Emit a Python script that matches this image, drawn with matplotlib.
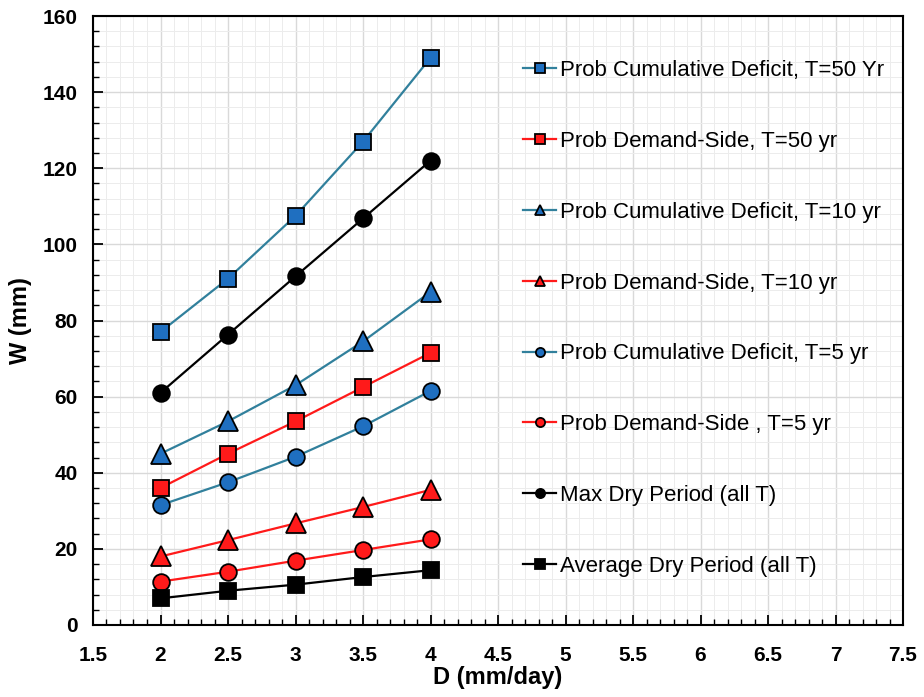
import matplotlib.pyplot as plt
from matplotlib.ticker import MultipleLocator

plt.rcParams['font.family'] = ['Liberation Sans', 'DejaVu Sans']

d = [2, 2.5, 3, 3.5, 4]
cum_50 = [77, 91, 107.5, 127, 149]
dem_50 = [36, 45, 53.5, 62.5, 71.5]
cum_10 = [45, 53.5, 63, 74.5, 87.5]
dem_10 = [18, 22.3, 26.7, 31, 35.5]
cum_5 = [31.5, 37.5, 44.2, 52.2, 61.5]
dem_5 = [11.4, 14, 16.9, 19.7, 22.5]
max_dry = [61, 76.3, 91.6, 106.8, 122]
avg_dry = [7, 9, 10.6, 12.6, 14.4]

labels = ['Prob Cumulative Deficit, T=50 Yr', 'Prob Demand-Side, T=50 yr',
          'Prob Cumulative Deficit, T=10 yr', 'Prob Demand-Side, T=10 yr',
          'Prob Cumulative Deficit, T=5 yr', 'Prob Demand-Side , T=5 yr',
          'Max Dry Period (all T)', 'Average Dry Period (all T)']

blue_line = '#31809c'
blue_fill = '#1f6fc0'
red = '#ff1a1a'

series = [
    (cum_50, blue_line, blue_fill, 's', 12),
    (dem_50, red, red, 's', 12),
    (cum_10, blue_line, blue_fill, '^', 14),
    (dem_10, red, red, '^', 14),
    (cum_5, blue_line, blue_fill, 'o', 12),
    (dem_5, red, red, 'o', 12),
    (max_dry, 'black', 'black', 'o', 12),
    (avg_dry, 'black', 'black', 's', 12),
]

fig = plt.figure(figsize=(9.24, 6.97), dpi=100)
ax = fig.add_axes([93/924, 1-625/697, 810/924, 609/697])

for (vals, lc, fc, mk, ms), lab in zip(series, labels):
    ax.plot(d, vals, color=lc, lw=1.6, marker=mk, markersize=ms,
            markerfacecolor=fc, markeredgecolor='black', markeredgewidth=1.3,
            label=lab, zorder=3)

ax.set_xlim(1.5, 7.5)
ax.set_ylim(0, 160)
ax.xaxis.set_major_locator(MultipleLocator(0.5))
ax.xaxis.set_minor_locator(MultipleLocator(0.1))
ax.yaxis.set_major_locator(MultipleLocator(20))
ax.yaxis.set_minor_locator(MultipleLocator(4))
ax.set_xticks([1.5, 2, 2.5, 3, 3.5, 4, 4.5, 5, 5.5, 6, 6.5, 7, 7.5])
ax.set_xticklabels(['1.5', '2', '2.5', '3', '3.5', '4', '4.5', '5', '5.5',
                    '6', '6.5', '7', '7.5'])
ax.grid(which='major', color='#d9d9d9', lw=1.0, zorder=0)
ax.grid(which='minor', color='#ececec', lw=0.7, zorder=0)
ax.tick_params(which='major', direction='in', length=7, width=1.3,
               labelsize=15)
ax.tick_params(axis='x', which='major', pad=15)
ax.tick_params(axis='y', which='major', pad=11)
ax.tick_params(which='minor', direction='in', length=4, width=1.0)
for lbl in ax.get_xticklabels() + ax.get_yticklabels():
    lbl.set_fontweight('bold')
for sp in ax.spines.values():
    sp.set_linewidth(1.5)

ax.set_xlabel('D (mm/day)', fontsize=17, fontweight='bold', labelpad=1)
ax.set_ylabel('W (mm)', fontsize=17, fontweight='bold', labelpad=8)

ax.legend(loc='upper left', bbox_to_anchor=(0.52, 0.942), frameon=False,
          fontsize=16, markerscale=0.55, handlelength=1.5, handletextpad=0.15,
          labelspacing=2.24, borderaxespad=0)

fig.savefig('out.png', dpi=100)
